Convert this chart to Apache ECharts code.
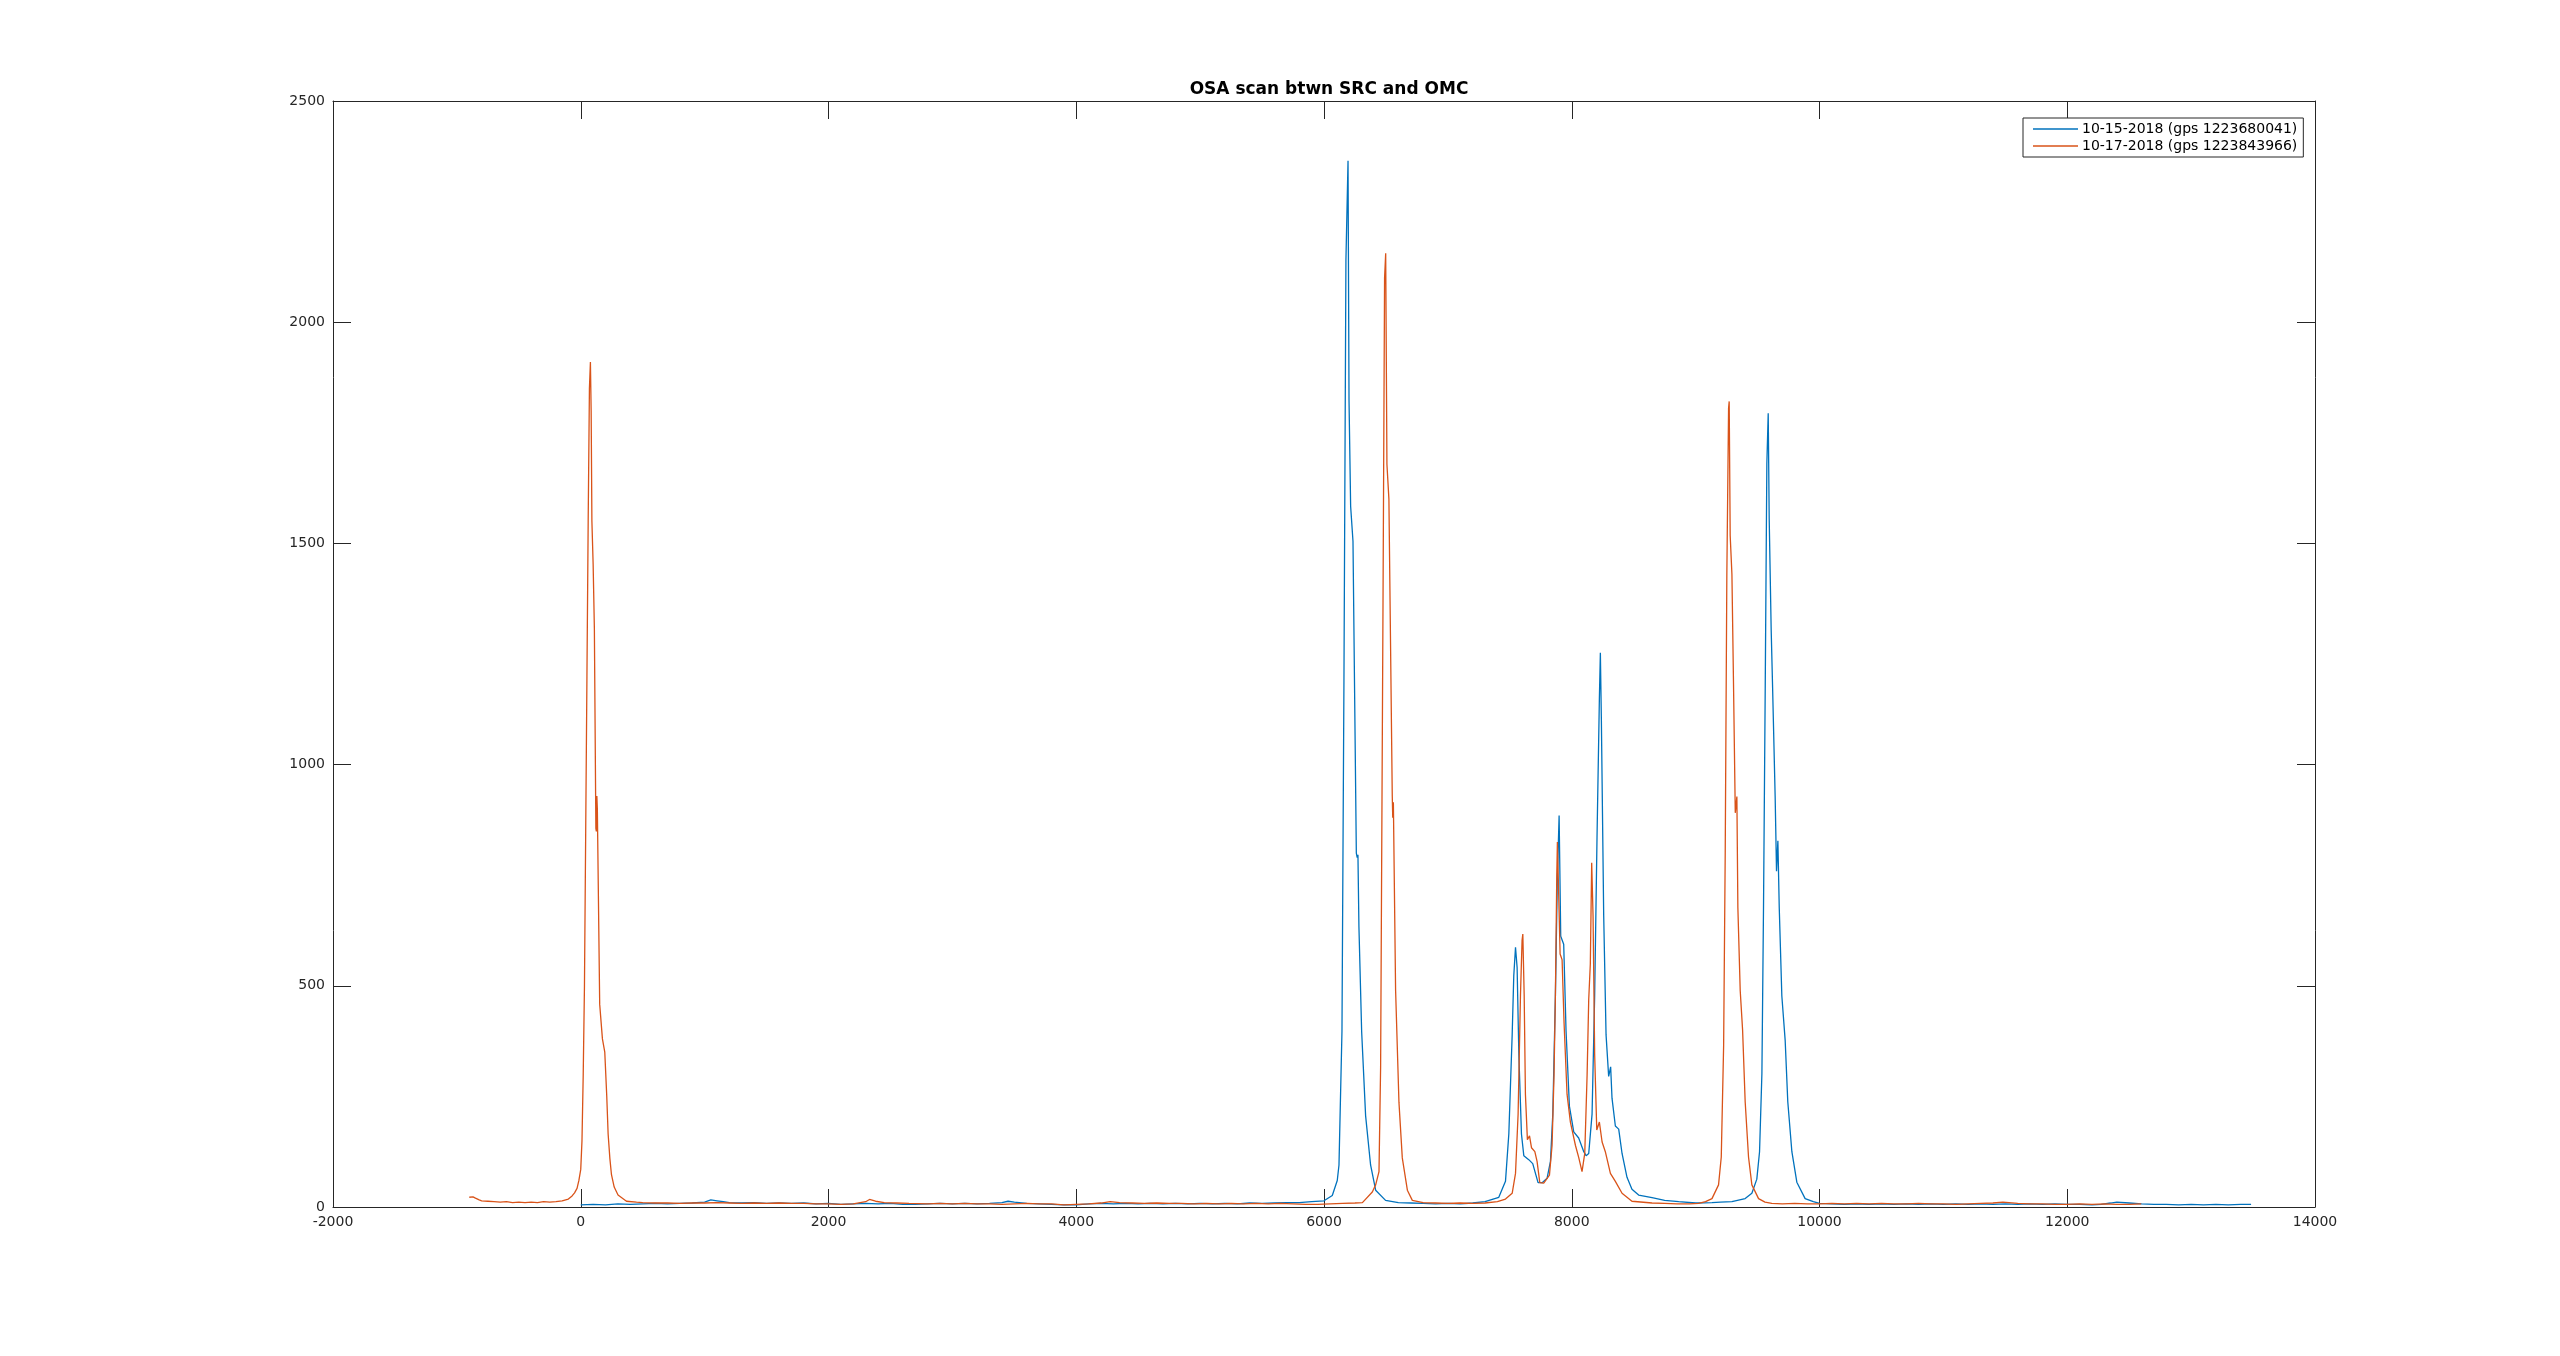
<!DOCTYPE html>
<html>
<head>
<meta charset="utf-8">
<style>html,body{margin:0;padding:0;background:#fff;}#c{width:2560px;height:1356px;}</style>
<script src="https://cdn.jsdelivr.net/npm/echarts@6/dist/echarts.min.js"></script>
</head>
<body>
<div id="c"></div>
<script>
const chartTitle = 'OSA scan btwn SRC and OMC';
const blueName = '10-15-2018 (gps 1223680041)';
const redName = '10-17-2018 (gps 1223843966)';
const xTicks = [-2000, 0, 2000, 4000, 6000, 8000, 10000, 12000, 14000];
const yTicks = [0, 500, 1000, 1500, 2000, 2500];

const blueX = [0,100,200,300,400,500,600,700,800,900,1000,1050,1100,1150,1200,1300,1400,1500,1600,1700,1800,1900,2000,2100,2200,2300,2400,2500,2600,2700,2800,2900,3000,3100,3200,3300,3400,3450,3500,3600,3700,3800,3900,4000,4100,4200,4300,4400,4500,4600,4700,4800,4900,5000,5100,5200,5300,5400,5500,5600,5700,5800,5900,6000,6067,6107,6121,6145,6161,6177,6194,6202,6215,6234,6261,6268,6274,6282,6304,6336,6376,6417,6497,6600,6700,6800,6900,7000,7100,7200,7300,7411,7465,7492,7519,7532,7546,7559,7573,7594,7613,7653,7685,7707,7728,7761,7801,7828,7847,7868,7884,7898,7911,7935,7954,7965,7981,8016,8056,8097,8116,8137,8164,8185,8204,8223,8231,8239,8258,8277,8298,8314,8325,8352,8379,8406,8446,8486,8540,8648,8750,8863,9000,9132,9200,9293,9400,9454,9494,9516,9535,9548,9562,9575,9586,9594,9610,9621,9642,9653,9664,9675,9696,9723,9744,9777,9817,9884,9950,10000,10100,10200,10300,10400,10500,10600,10700,10800,10900,11000,11100,11200,11300,11400,11500,11600,11700,11800,11900,12000,12100,12200,12274,12350,12400,12500,12600,12700,12800,12900,13000,13100,13200,13300,13400,13484];
const blueY = [5,6,5,7,6,7,8,7,8,9,11,16,14,12,10,9,10,8,9,8,9,7,8,6,7,8,7,8,6,6,7,8,7,8,7,8,10,13,11,8,7,6,5,5,7,8,7,8,7,8,7,8,7,8,7,8,7,9,8,9,10,10,12,14,26,60,95,396,1189,2140,2365,1823,1584,1505,800,790,796,633,396,206,95,38,15,10,9,8,7,8,7,9,12,22,58,165,389,523,587,541,344,165,116,107,98,76,55,55,65,103,210,478,746,885,612,594,398,400,228,170,156,125,116,121,210,478,836,1149,1253,1104,657,389,295,317,246,183,176,121,67,40,27,21,15,12,9,10,11,12,19,31,63,125,301,677,1179,1681,1794,1555,1304,1179,928,759,828,677,477,376,238,125,56,19,12,8,7,6,7,6,7,6,7,6,7,6,7,6,7,6,7,6,7,6,7,6,6,5,6,9,11,9,7,6,6,5,6,5,6,5,6,6,7,6];

const redX = [-900,-870,-850,-820,-800,-750,-700,-650,-600,-550,-500,-450,-400,-350,-300,-250,-200,-150,-100,-70,-50,-30,-15,0,10,20,30,40,50,60,70,78,84,90,100,110,122,126,130,134,153,175,194,210,221,235,248,270,301,369,450,500,600,700,800,900,1000,1100,1200,1300,1400,1500,1600,1700,1800,1900,2000,2100,2200,2300,2331,2380,2450,2550,2650,2800,2900,3000,3100,3200,3300,3400,3500,3600,3700,3800,3900,4000,4100,4200,4274,4350,4450,4550,4650,4750,4850,4950,5050,5150,5250,5350,5450,5550,5650,5750,5850,5950,6050,6150,6250,6310,6390,6417,6444,6457,6476,6489,6498,6508,6524,6551,6555,6560,6578,6605,6632,6673,6713,6800,6900,7000,7100,7200,7300,7400,7465,7519,7546,7567,7586,7599,7605,7616,7626,7642,7659,7675,7702,7720,7742,7774,7820,7841,7857,7868,7879,7884,7895,7906,7922,7938,7962,7989,8030,8056,8083,8105,8124,8137,8150,8161,8172,8185,8202,8212,8223,8245,8271,8312,8352,8406,8486,8648,8750,8850,8950,9024,9080,9132,9185,9207,9226,9239,9252,9266,9271,9279,9293,9306,9320,9333,9341,9360,9379,9400,9427,9454,9508,9560,9615,9700,9800,9900,10000,10100,10200,10300,10400,10500,10600,10700,10800,10900,11000,11100,11200,11300,11400,11480,11530,11600,11700,11800,11900,12000,12100,12200,12300,12400,12500,12597];
const redY = [22,23,20,16,14,13,12,11,12,10,11,10,11,10,12,11,12,14,18,25,32,42,60,85,150,300,500,850,1200,1550,1850,1910,1800,1550,1453,1307,856,849,929,900,458,380,350,250,165,110,73,45,27,13,11,10,9,9,8,9,9,10,9,8,9,8,9,8,8,7,7,6,7,12,17,13,10,9,8,7,8,7,8,7,7,6,7,8,7,7,5,6,7,9,12,10,9,8,9,8,8,7,8,7,8,7,8,7,8,7,6,6,7,8,9,10,34,50,80,316,1347,2100,2156,1679,1600,930,880,915,490,237,111,38,15,10,9,8,9,8,9,12,18,31,76,210,478,603,617,478,255,152,161,134,125,103,55,54,72,139,299,478,746,825,702,572,559,416,255,192,139,112,80,121,299,469,550,778,657,344,174,174,192,147,125,76,58,31,13,9,8,7,7,8,12,19,50,113,364,803,1430,1806,1821,1518,1430,1179,891,928,677,489,401,238,113,50,19,11,8,7,8,7,7,8,7,8,7,8,7,7,8,7,7,6,7,8,9,11,10,8,7,7,6,6,7,6,7,6,6,7];

const zip = (xs, ys) => xs.map((x, i) => [x, ys[i]]);
const axisColor = '#262626';
const font = 'DejaVu Sans';
const plain = v => String(v);

const chart = echarts.init(document.getElementById('c'));
const baseX = {
  type: 'value', min: xTicks[0], max: xTicks[xTicks.length - 1], interval: 2000,
  axisLine: { show: true, onZero: false, lineStyle: { color: axisColor, width: 1 } },
  axisTick: { show: true, inside: true, length: 18, lineStyle: { color: axisColor, width: 1 } },
  splitLine: { show: false }
};
const baseY = {
  type: 'value', min: yTicks[0], max: yTicks[yTicks.length - 1], interval: 500,
  axisLine: { show: true, onZero: false, lineStyle: { color: axisColor, width: 1 } },
  axisTick: { show: true, inside: true, length: 18, lineStyle: { color: axisColor, width: 1 } },
  splitLine: { show: false }
};
chart.setOption({
  animation: false,
  backgroundColor: '#ffffff',
  title: {
    text: chartTitle, left: 1324, top: 76, textAlign: 'center',
    textStyle: { fontFamily: font, fontWeight: 'bold', fontSize: 17, color: '#000' }
  },
  legend: {
    orient: 'vertical', left: 2023, top: 118,
    padding: [4, 6, 4, 10], itemGap: 3, itemWidth: 45, itemHeight: 14,
    borderColor: axisColor, borderWidth: 1, backgroundColor: '#fff',
    textStyle: { fontFamily: font, fontSize: 14, color: '#000', padding: [0, 0, 0, -1] },
    data: [
      { name: blueName, icon: 'path://M0,0 L45,0 L45,1.3 L0,1.3 Z' },
      { name: redName, icon: 'path://M0,0 L45,0 L45,1.3 L0,1.3 Z' }
    ]
  },
  grid: { left: 333, right: 245, top: 101, bottom: 149, containLabel: false },
  xAxis: [
    Object.assign({}, baseX, {
      position: 'bottom',
      axisLabel: { show: true, margin: 8, fontFamily: font, fontSize: 14, color: axisColor, formatter: plain }
    }),
    Object.assign({}, baseX, { position: 'top', axisLabel: { show: false } })
  ],
  yAxis: [
    Object.assign({}, baseY, {
      position: 'left',
      axisLabel: { show: true, margin: 8, fontFamily: font, fontSize: 14, color: axisColor, formatter: plain }
    }),
    Object.assign({}, baseY, { position: 'right', axisLabel: { show: false } })
  ],
  series: [
    {
      name: blueName, type: 'line', xAxisIndex: 0, yAxisIndex: 0,
      data: zip(blueX, blueY), symbol: 'none', showSymbol: false,
      lineStyle: { color: '#0072BD', width: 1.3 }, itemStyle: { color: '#0072BD' }
    },
    {
      name: redName, type: 'line', xAxisIndex: 0, yAxisIndex: 0,
      data: zip(redX, redY), symbol: 'none', showSymbol: false,
      lineStyle: { color: '#D95319', width: 1.3 }, itemStyle: { color: '#D95319' }
    }
  ]
});
</script>
</body>
</html>
